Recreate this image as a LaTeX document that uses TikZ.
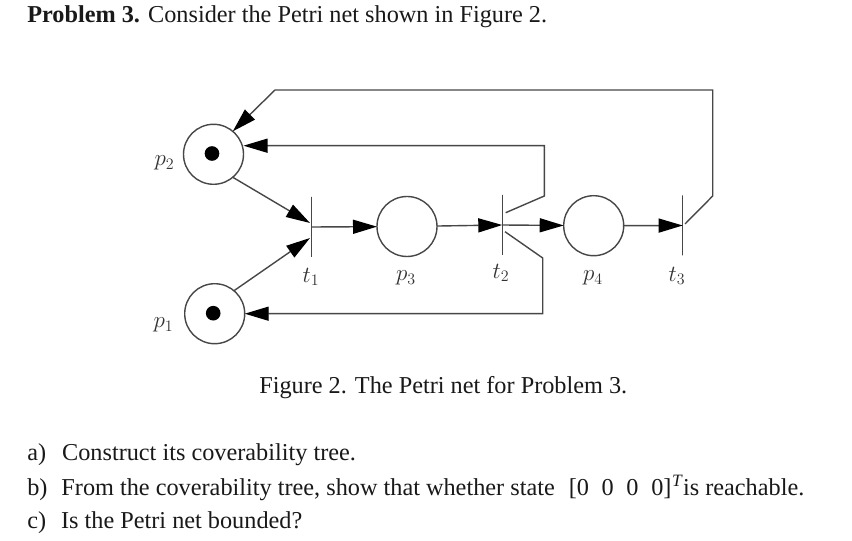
\documentclass[tikz,border=0pt]{standalone}
\usepackage{fontspec}
\usepackage{amsmath}
\setmainfont{Liberation Serif}
\usetikzlibrary{arrows.meta}
\definecolor{netgray}{gray}{0.28}
\tikzset{
  x=0.75pt,y=-0.75pt,
  place/.style={circle,draw=netgray,line width=1.05pt,minimum size=45pt,inner sep=0pt,outer sep=0pt},
  token/.style={circle,fill=black,minimum size=11pt,inner sep=0pt},
  trans/.style={rectangle,draw=netgray,line width=1pt,minimum width=0pt,minimum height=45pt,inner sep=0pt,outer sep=0pt},
  arc/.style={draw=netgray,line width=1.05pt,-{Triangle[length=18pt,width=10.5pt,color=black]}},
  lab/.style={font=\fontsize{17.5}{20}\selectfont,text=black!80,inner sep=0pt},
  txt/.style={anchor=base west,inner sep=0pt,font=\fontsize{18.2}{22}\selectfont,text=black!90},
}
\begin{document}
\begin{tikzpicture}
\useasboundingbox (0,0) rectangle (852,541);
\fill[white] (0,0) rectangle (852,541);
\node[place] (p2) at (213.5,154.3) {};
\node[place] (p1) at (214.7,313.7) {};
\node[place] (p3) at (407,226.5) {};
\node[place] (p4) at (593.7,225.7) {};
\node[token] (m2) at (212,153.5) {};
\node[token] (m1) at (213.2,313.2) {};
\node[trans] (t1) at (311.7,227) {};
\node[trans] (t2) at (502.3,225) {};
\node[trans] (t3) at (682.7,225.5) {};
\coordinate (a1) at (275,90);
\coordinate (a2) at (712.7,90);
\coordinate (a3) at (712.7,196);
\coordinate (a4) at (685,224);
\coordinate (b0) at (505.7,212.7);
\coordinate (b1) at (544.3,196);
\coordinate (b2) at (544.3,145.7);
\coordinate (c0) at (505,231.7);
\coordinate (c1) at (542.7,258);
\coordinate (c2) at (542.7,313.7);
\coordinate (e1) at (310,223);
\coordinate (e2) at (310,238);
\draw[arc] (p2.-50) -- (e1);
\draw[arc] (p1.50) -- (e2);
\draw[arc] (t1.center) -- (p3);
\draw[arc] (p3) -- (t2.center);
\draw[arc] (t2.center) -- (p4);
\draw[arc] (p4.east) -- (t3.center);
\draw[arc] (a4) -- (a3) -- (a2) -- (a1) -- (p2.50);
\draw[arc] (b0) -- (b1) -- (b2) -- (p2.east |- b2);
\draw[arc] (c0) -- (c1) -- (c2) -- (p1);
\node[lab] (lp2) at (164.5,163) {$p_2$};
\node[lab] (lp1) at (163.5,325) {$p_1$};
\node[lab] (lt1) at (311,277) {$t_1$};
\node[lab] (lp3) at (406,278) {$p_3$};
\node[lab] (lt2) at (501,273) {$t_2$};
\node[lab] (lp4) at (593,278) {$p_4$};
\node[lab] (lt3) at (677,276) {$t_3$};
\node[txt] (title) at (27,22.7) {\textbf{Problem 3.} Consider the Petri net shown in Figure 2.};
\node[txt] (fig) at (259,393) {Figure 2. The Petri net for Problem 3.};
\node[txt] (qa) at (27,460) {a)\hspace{12pt}Construct its coverability tree.};
\node[txt] (qb) at (27,495) {b)\hspace{10.5pt}From the coverability tree, show that whether state\hspace{10.5pt}[0\hspace{9.5pt}0\hspace{9.5pt}0\hspace{9.5pt}0]\raisebox{6.5pt}{\hspace{0.5pt}\fontsize{13}{13}\selectfont\itshape T}\hspace{1pt}is reachable.};
\node[txt] (qc) at (27,528) {c)\hspace{11.2pt}Is the Petri net bounded?};
\end{tikzpicture}
\end{document}
